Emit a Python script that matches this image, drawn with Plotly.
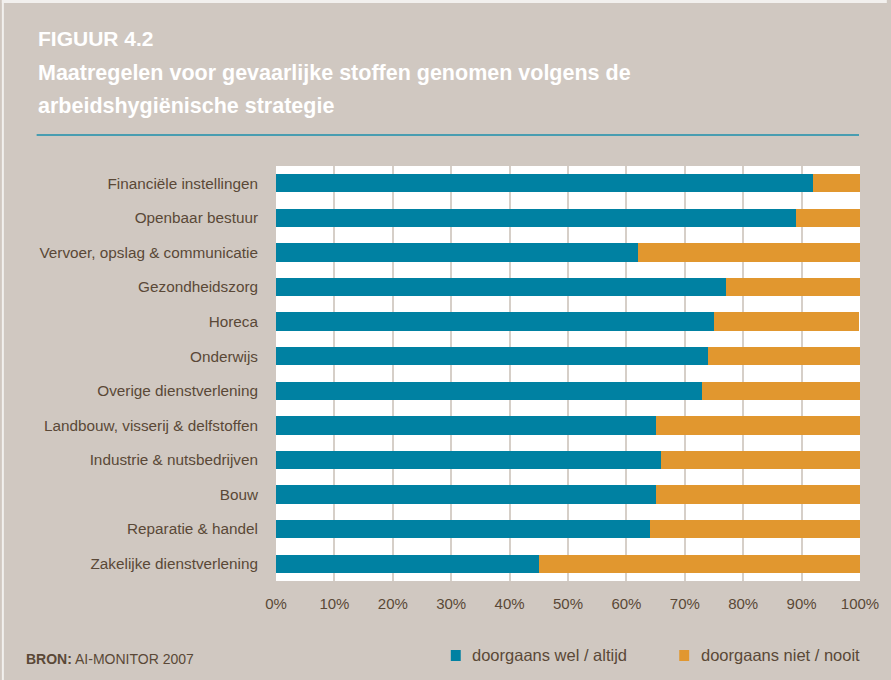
import plotly.graph_objects as go

# Sectors, top to bottom
categories = [
    "Financiële instellingen",
    "Openbaar bestuur",
    "Vervoer, opslag & communicatie",
    "Gezondheidszorg",
    "Horeca",
    "Onderwijs",
    "Overige dienstverlening",
    "Landbouw, visserij & delfstoffen",
    "Industrie & nutsbedrijven",
    "Bouw",
    "Reparatie & handel",
    "Zakelijke dienstverlening",
]
wel_altijd = [92, 89, 62, 77, 75, 74, 73, 65, 66, 65, 64, 45]
niet_nooit = [8, 11, 38, 23, 24.8, 26, 27, 35, 34, 35, 36, 55]

series_names = ["doorgaans wel / altijd", "doorgaans niet / nooit"]
tick_values = [0, 10, 20, 30, 40, 50, 60, 70, 80, 90, 100]
tick_labels = ["0%", "10%", "20%", "30%", "40%", "50%", "60%", "70%", "80%", "90%", "100%"]

BLUE = "#0081a2"
ORANGE = "#e1972f"
BG = "#d0c8c1"
BROWN = "#5a4837"
TEAL = "#1b8fab"
GRID = "#d6cfc8"

W, H = 891, 680
L, R, T, B = 276, 864, 166, 581  # plot area in pixels


def px(x):
    return (x - L) / (R - L)


def py(y):
    return (B - y) / (B - T)


fig = go.Figure()
fig.add_trace(go.Bar(
    y=categories, x=wel_altijd, orientation="h", name=series_names[0],
    marker=dict(color=BLUE, line=dict(width=0)), showlegend=False,
))
fig.add_trace(go.Bar(
    y=categories, x=niet_nooit, orientation="h", name=series_names[1],
    marker=dict(color=ORANGE, line=dict(width=0)), showlegend=False,
))

title_font = "Liberation Sans, Arial, sans-serif"
body_font = "Liberation Sans, Arial, sans-serif"

annotations = [
    dict(text="<b>FIGUUR 4.2</b>", x=px(34), y=py(38), font=dict(size=21, color="white", family=title_font)),
    dict(text="<b>Maatregelen voor gevaarlijke stoffen genomen volgens de</b>", x=px(34), y=py(73),
         font=dict(size=21.5, color="white", family=title_font)),
    dict(text="<b>arbeidshygiënische strategie</b>", x=px(34), y=py(106),
         font=dict(size=21.5, color="white", family=title_font)),
    dict(text="<b>BRON:</b> AI-MONITOR 2007", x=px(22), y=py(659),
         font=dict(size=14, color=BROWN, family=title_font)),
    dict(text=series_names[0], x=px(471), y=py(655), font=dict(size=16.5, color=BROWN, family=body_font)),
    dict(text=series_names[1], x=px(702), y=py(655), font=dict(size=16.5, color=BROWN, family=body_font)),
]
for a in annotations:
    a.update(xref="paper", yref="paper", xanchor="left", yanchor="middle", showarrow=False)

shapes = [
    # rule under the heading
    dict(type="line", xref="paper", yref="paper", x0=px(35), x1=px(863), y0=py(135), y1=py(135),
         line=dict(color=TEAL, width=1.5)),
    # legend swatches
    dict(type="rect", xref="paper", yref="paper", x0=px(452), x1=px(462), y0=py(661), y1=py(650),
         fillcolor=BLUE, line=dict(width=0)),
    dict(type="rect", xref="paper", yref="paper", x0=px(682), x1=px(692), y0=py(661), y1=py(650),
         fillcolor=ORANGE, line=dict(width=0)),
    # light page edge
    dict(type="rect", xref="paper", yref="paper", x0=px(0), x1=px(W), y0=py(0), y1=py(3),
         fillcolor="#f2f0ee", line=dict(width=0), layer="below"),
    dict(type="rect", xref="paper", yref="paper", x0=px(0), x1=px(2), y0=py(0), y1=py(H),
         fillcolor="#f2f0ee", line=dict(width=0), layer="below"),
]

fig.update_layout(
    width=W, height=H,
    margin=dict(l=L, r=W - R, t=T, b=H - B, pad=0),
    paper_bgcolor=BG, plot_bgcolor="white",
    barmode="stack", bargap=0.47,
    font=dict(family=body_font, size=15, color=BROWN),
    annotations=annotations, shapes=shapes,
    xaxis=dict(
        range=[0, 100], tickvals=tick_values, ticktext=tick_labels,
        showgrid=True, gridcolor=GRID, gridwidth=1.5, zeroline=False,
        showline=False, ticks="", ticklabelstandoff=12,
        tickfont=dict(size=15, color=BROWN, family=body_font),
        fixedrange=True,
    ),
    yaxis=dict(
        autorange="reversed", showgrid=False, zeroline=False, showline=False,
        ticks="", ticklabelstandoff=17,
        tickfont=dict(size=15.3, color=BROWN, family=body_font),
        fixedrange=True,
    ),
)

fig.write_html("out.html")
